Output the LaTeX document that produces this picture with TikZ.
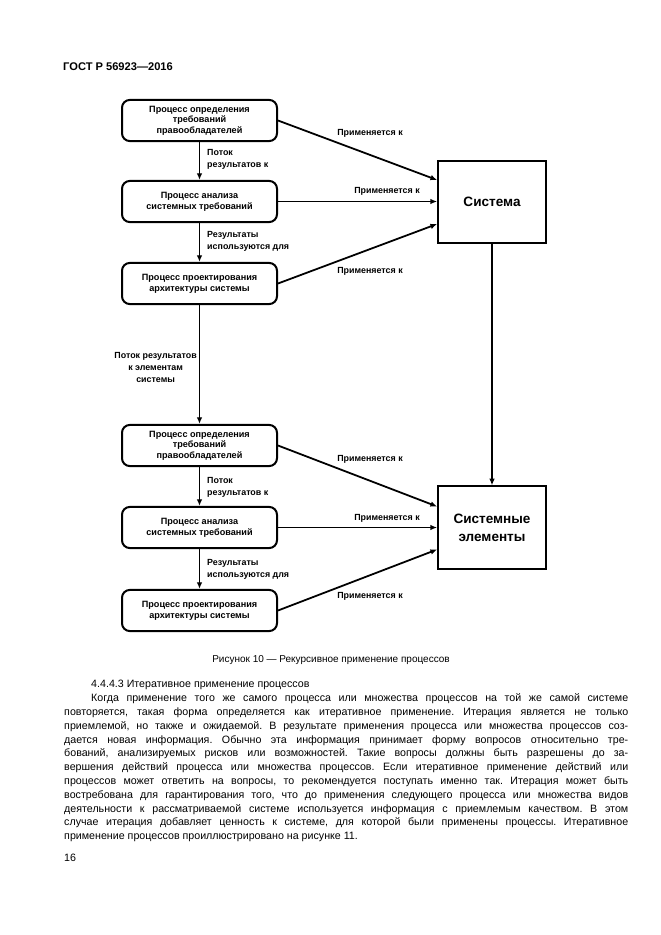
\documentclass[tikz,border=0pt]{standalone}
\usepackage{fontspec}
\setmainfont{Liberation Sans}
\usetikzlibrary{arrows.meta,calc}
\frenchspacing
\begin{document}
\begin{tikzpicture}[x=0.9pt,y=-0.9pt,
  proc/.style={draw, line width=1.8pt, rounded corners=7pt, minimum width=139.5pt, minimum height=37pt, align=center, inner sep=1pt, font=\bfseries\fontsize{8.2}{9.6}\selectfont},
  sysbox/.style={draw, line width=1.8pt, minimum width=97pt, minimum height=74pt, align=center, font=\bfseries\fontsize{12.2}{16.5}\selectfont},
  conn/.style={line width=1.6pt, -{Latex[length=6pt,width=5pt]}},
  lbl/.style={font=\bfseries\fontsize{8}{10.8}\selectfont, inner sep=0pt},
  body/.style={font=\fontsize{9.6}{12}\selectfont, anchor=west, inner sep=0pt},
]
\useasboundingbox (0,0) rectangle (661,935);
\fill[white] (0,0) rectangle (661,935);

\node[font=\bfseries\fontsize{10}{12}\selectfont, anchor=west, inner sep=0pt] (hdr) at (63,67) {ГОСТ Р 56923—2016};

% upper group
\node[proc] (p1) at (199.5,120.5) {Процесс определения\\требований\\правообладателей};
\node[proc] (p2) at (199.5,201.5) {Процесс анализа\\системных требований};
\node[proc] (p3) at (199.5,283.5) {Процесс проектирования\\архитектуры системы};
\node[sysbox] (sys) at (492,202) {Система};

% lower group
\node[proc] (p4) at (199.5,445.5) {Процесс определения\\требований\\правообладателей};
\node[proc] (p5) at (199.5,527.5) {Процесс анализа\\системных требований};
\node[proc] (p6) at (199.5,610.5) {Процесс проектирования\\архитектуры системы};
\node[sysbox] (els) at (492,527.5) {Системные\\элементы};

% connectors
\draw[conn] (p1) -- (p2);
\draw[conn] (p2) -- (p3);
\draw[conn] (p3) -- (p4);
\draw[conn] (p4) -- (p5);
\draw[conn] (p5) -- (p6);
\draw[conn] (sys) -- (els);

\coordinate (s1) at ($(sys.west)+(0,-22)$);
\coordinate (s3) at ($(sys.west)+(0,22)$);
\coordinate (e1) at ($(els.west)+(0,-21)$);
\coordinate (e3) at ($(els.west)+(0,22)$);
\draw[conn] (p1.east) -- (s1);
\draw[conn] (p2.east) -- (p2.east -| sys.west);
\draw[conn] (p3.east) -- (s3);
\draw[conn] (p4.east) -- (e1);
\draw[conn] (p5.east) -- (p5.east -| els.west);
\draw[conn] (p6.east) -- (e3);

% labels
\node[lbl] (a1) at (370,133) {Применяется к};
\node[lbl] (a2) at (387,191) {Применяется к};
\node[lbl] (a3) at (370,271) {Применяется к};
\node[lbl] (a4) at (370,459) {Применяется к};
\node[lbl] (a5) at (387,518) {Применяется к};
\node[lbl] (a6) at (370,596) {Применяется к};

\node[lbl, anchor=west, align=left] (f1) at (207,159) {Поток\\результатов к};
\node[lbl, anchor=west, align=left] (r1) at (207,241.5) {Результаты\\используются для};
\node[lbl, anchor=west, align=left] (f2) at (207,487) {Поток\\результатов к};
\node[lbl, anchor=west, align=left] (r2) at (207,569) {Результаты\\используются для};
\node[lbl, anchor=east, align=center] (fe) at (197,367.5) {Поток результатов\\к элементам\\системы};

% caption
\node[font=\fontsize{9}{11}\selectfont, inner sep=0pt] (cap) at (331,660) {Рисунок 10 — Рекурсивное применение процессов};

% body text
\node[body] (l1) at (91,685) {4.4.4.3 Итеративное применение процессов};
\node[body] (l2) at (91,698.8) {\makebox[483.3pt][s]{Когда применение того же самого процесса или множества процессов на той же самой системе}};
\node[body] (l3) at (64,712.6) {\makebox[507.6pt][s]{повторяется, такая форма определяется как итеративное применение. Итерация является не только}};
\node[body] (l4) at (64,726.4) {\makebox[507.6pt][s]{приемлемой, но также и ожидаемой. В результате применения процесса или множества процессов соз-}};
\node[body] (l5) at (64,740.2) {\makebox[507.6pt][s]{дается новая информация. Обычно эта информация принимает форму вопросов относительно тре-}};
\node[body] (l6) at (64,754) {\makebox[507.6pt][s]{бований, анализируемых рисков или возможностей. Такие вопросы должны быть разрешены до за-}};
\node[body] (l7) at (64,767.8) {\makebox[507.6pt][s]{вершения действий процесса или множества процессов. Если итеративное применение действий или}};
\node[body] (l8) at (64,781.6) {\makebox[507.6pt][s]{процессов может ответить на вопросы, то рекомендуется поступать именно так. Итерация может быть}};
\node[body] (l9) at (64,795.4) {\makebox[507.6pt][s]{востребована для гарантирования того, что до применения следующего процесса или множества видов}};
\node[body] (l10) at (64,809.2) {\makebox[507.6pt][s]{деятельности к рассматриваемой системе используется информация с приемлемым качеством. В этом}};
\node[body] (l11) at (64,823) {\makebox[507.6pt][s]{случае итерация добавляет ценность к системе, для которой были применены процессы. Итеративное}};
\node[body] (l12) at (64,836.8) {применение процессов проиллюстрировано на рисунке 11.};
\node[body] (pg) at (64,858) {16};
\end{tikzpicture}
\end{document}
